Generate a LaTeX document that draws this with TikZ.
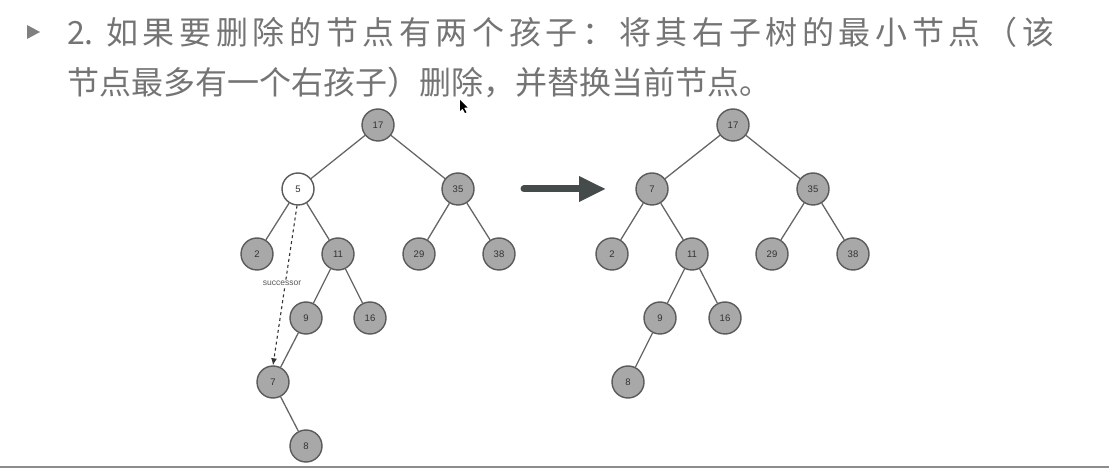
\documentclass[tikz,border=0pt]{standalone}
\usepackage{fontspec}
\usetikzlibrary{arrows.meta}
\setmainfont{Liberation Sans}
\newfontfamily\cjka[LetterSpace=14.5]{Noto Sans CJK SC}
\newfontfamily\cjkb{Noto Sans CJK SC}
\definecolor{txtgray}{HTML}{747474}
\definecolor{nodefill}{HTML}{A8A8A8}
\definecolor{nodeline}{HTML}{5A5A5A}
\definecolor{edgecol}{HTML}{666666}
\definecolor{arrowcol}{HTML}{454A4A}
\tikzset{
  tn/.style={circle, draw=nodeline, fill=nodefill, line width=1.4bp, minimum size=32bp, inner sep=0pt, font=\fontsize{9.5bp}{10bp}\selectfont, text=black!80},
  tnwhite/.style={tn, fill=white},
  edge/.style={draw=edgecol, line width=1.3bp},
  titletext/.style={anchor=base west, inner sep=0pt, text=txtgray},
  bigarrow/.style={draw=arrowcol, line width=7bp, line cap=round, -{Triangle[length=27bp,width=24bp]}},
  succ/.style={draw=black!80, line width=1.1bp, dashed, -{Latex[length=7bp,width=6bp]}},
}
\begin{document}
\begin{tikzpicture}[x=1bp,y=-1bp]
\useasboundingbox (0,0) rectangle (1109,468);
% bullet
\fill[black!50] (27,25) -- (40,32) -- (27,39) -- cycle;
% title
\node[titletext, font=\fontsize{32bp}{36bp}\cjkb] (t0) at (67,45) {2.};
\node[titletext, font=\fontsize{32bp}{36bp}\cjka] (t1) at (106,45) {如果要删除的节点有两个孩子：将其右子树的最小节点（该};
\node[titletext, font=\fontsize{32bp}{36bp}\cjkb] (t2) at (67,95) {节点最多有一个右孩子）删除，并替换当前节点。};
% cursor
\fill[black] (460,100) -- (460,111) -- (462.5,108.5) -- (465,113) -- (466.5,112.3) -- (464,107.8) -- (467.5,107.5) -- cycle;

% left tree
\node[tn] (L17) at (378,125) {17};
\node[tnwhite] (L5) at (298,189) {5};
\node[tn] (L35) at (458,189) {35};
\node[tn] (L2) at (257,254) {2};
\node[tn] (L11) at (338,254) {11};
\node[tn] (L29) at (419,254) {29};
\node[tn] (L38) at (499,254) {38};
\node[tn] (L9) at (306,318) {9};
\node[tn] (L16) at (370,318) {16};
\node[tn] (L7) at (273,382) {7};
\node[tn] (L8) at (306,446) {8};
\draw[edge] (L17) -- (L5);
\draw[edge] (L17) -- (L35);
\draw[edge] (L5) -- (L2);
\draw[edge] (L5) -- (L11);
\draw[edge] (L35) -- (L29);
\draw[edge] (L35) -- (L38);
\draw[edge] (L11) -- (L9);
\draw[edge] (L11) -- (L16);
\draw[edge] (L9) -- (L7);
\draw[edge] (L7) -- (L8);
\draw[succ] (L5.south) ++(-1,0) coordinate (s1) (s1) -- (L7.north);
\node[fill=white, inner sep=1pt, text=black!65, font=\fontsize{8.5bp}{9bp}\selectfont] (succlbl) at (282,283) {successor};

% big arrow
\coordinate (a1) at (524,189);
\coordinate (a2) at (606,189);
\draw[bigarrow] (a1) -- (a2);

% right tree
\node[tn] (R17) at (733,125) {17};
\node[tn] (R7) at (652,189) {7};
\node[tn] (R35) at (813,189) {35};
\node[tn] (R2) at (612,254) {2};
\node[tn] (R11) at (692,254) {11};
\node[tn] (R29) at (772,254) {29};
\node[tn] (R38) at (853,254) {38};
\node[tn] (R9) at (660,318) {9};
\node[tn] (R16) at (725,318) {16};
\node[tn] (R8) at (628,382) {8};
\draw[edge] (R17) -- (R7);
\draw[edge] (R17) -- (R35);
\draw[edge] (R7) -- (R2);
\draw[edge] (R7) -- (R11);
\draw[edge] (R35) -- (R29);
\draw[edge] (R35) -- (R38);
\draw[edge] (R11) -- (R9);
\draw[edge] (R11) -- (R16);
\draw[edge] (R9) -- (R8);

% bottom rule
\coordinate (b1) at (0,467);
\coordinate (b2) at (1109,467);
\draw[black!45, line width=2bp] (b1) -- (b2);
\end{tikzpicture}
\end{document}
